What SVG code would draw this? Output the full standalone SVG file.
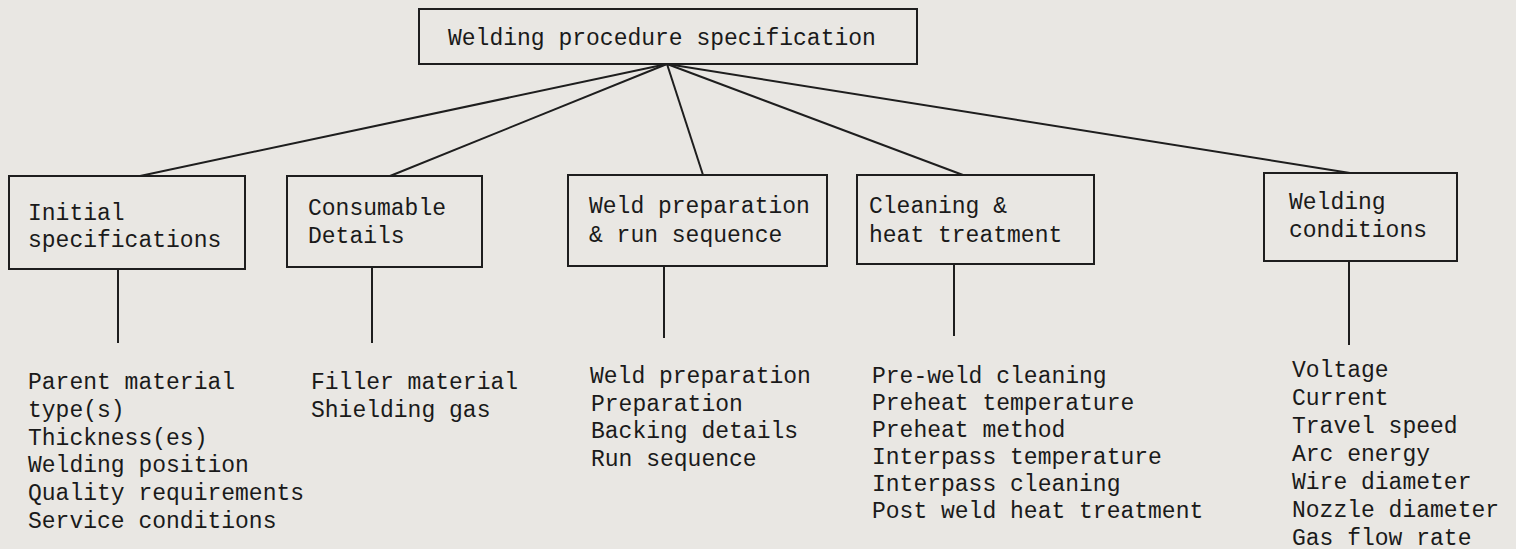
<svg xmlns="http://www.w3.org/2000/svg" width="1516" height="549" viewBox="0 0 1516 549">
<style>
.box{fill:none;stroke:#1e1e1e;stroke-width:2}
.ln{stroke:#1e1e1e;stroke-width:2;fill:none}
text{font-family:"Liberation Mono","DejaVu Sans Mono",monospace;font-size:23px;fill:#1a1a1a}
</style>
<rect width="1516" height="549" fill="#e9e7e3"/>
<g id="connectors">
<line class="ln" x1="667" y1="64" x2="140" y2="176"/>
<line class="ln" x1="667" y1="64" x2="390" y2="176"/>
<line class="ln" x1="667" y1="64" x2="703" y2="175"/>
<line class="ln" x1="667" y1="64" x2="963" y2="175"/>
<line class="ln" x1="667" y1="64" x2="1350" y2="173"/>
<line class="ln" x1="118" y1="269" x2="118" y2="343"/>
<line class="ln" x1="372" y1="267" x2="372" y2="343"/>
<line class="ln" x1="664" y1="266" x2="664" y2="338"/>
<line class="ln" x1="954" y1="264" x2="954" y2="336"/>
<line class="ln" x1="1349" y1="261" x2="1349" y2="345"/>
</g>
<g id="root">
<rect class="box" x="419" y="9" width="498" height="55"/>
<text x="448" y="45">Welding procedure specification</text>
</g>
<g id="initial">
<rect class="box" x="9" y="176" width="236" height="93"/>
<text x="28" y="220">Initial</text>
<text x="28" y="247">specifications</text>
</g>
<g id="consumable">
<rect class="box" x="287" y="176" width="195" height="91"/>
<text x="308" y="215">Consumable</text>
<text x="308" y="243">Details</text>
</g>
<g id="weldprep">
<rect class="box" x="568" y="175" width="259" height="91"/>
<text x="589" y="213">Weld preparation</text>
<text x="589" y="242">&amp; run sequence</text>
</g>
<g id="cleaning">
<rect class="box" x="857" y="175" width="237" height="89"/>
<text x="869" y="213">Cleaning &amp;</text>
<text x="869" y="242">heat treatment</text>
</g>
<g id="conditions">
<rect class="box" x="1264" y="173" width="193" height="88"/>
<text x="1289" y="209">Welding</text>
<text x="1289" y="237">conditions</text>
</g>
<g id="list-initial">
<text x="28" y="389">Parent material</text>
<text x="28" y="417">type(s)</text>
<text x="28" y="445">Thickness(es)</text>
<text x="28" y="472">Welding position</text>
<text x="28" y="500">Quality requirements</text>
<text x="28" y="528">Service conditions</text>
</g>
<g id="list-consumable">
<text x="311" y="389">Filler material</text>
<text x="311" y="417">Shielding gas</text>
</g>
<g id="list-weldprep">
<text x="590" y="383">Weld preparation</text>
<text x="591" y="411">Preparation</text>
<text x="591" y="438">Backing details</text>
<text x="591" y="466">Run sequence</text>
</g>
<g id="list-cleaning">
<text x="872" y="383">Pre-weld cleaning</text>
<text x="872" y="410">Preheat temperature</text>
<text x="872" y="437">Preheat method</text>
<text x="872" y="464">Interpass temperature</text>
<text x="872" y="491">Interpass cleaning</text>
<text x="872" y="518">Post weld heat treatment</text>
</g>
<g id="list-conditions">
<text x="1292" y="377">Voltage</text>
<text x="1292" y="405">Current</text>
<text x="1292" y="433">Travel speed</text>
<text x="1292" y="461">Arc energy</text>
<text x="1292" y="489">Wire diameter</text>
<text x="1292" y="517">Nozzle diameter</text>
<text x="1292" y="545">Gas flow rate</text>
</g>
</svg>
